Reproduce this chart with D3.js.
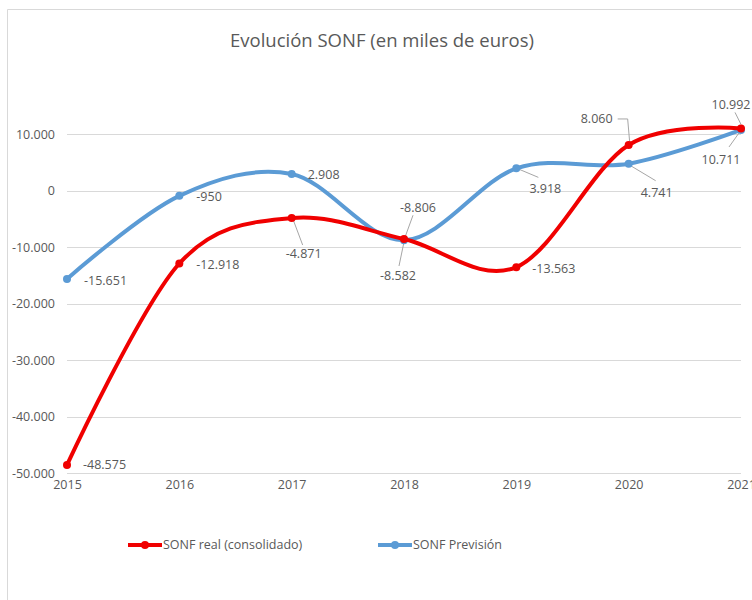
<!DOCTYPE html>
<html>
<head>
<meta charset="utf-8">
<script src="https://cdn.jsdelivr.net/npm/d3@7"></script>
<style>
  body { margin: 0; background: #fff; }
  text { font-family: "Open Sans", "DejaVu Sans", sans-serif; fill: #595959; }
</style>
</head>
<body>
<div id="chart"></div>
<script>
// ---------------------------- DATA ----------------------------
const years = ["2015", "2016", "2017", "2018", "2019", "2020", "2021"];
const realValues = [-48575, -12918, -4871, -8582, -13563, 8060, 10992];
const forecastValues = [-15651, -950, 2908, -8806, 3918, 4741, 10711];
const yTicks = [-50000, -40000, -30000, -20000, -10000, 0, 10000];
const seriesNames = ["SONF real (consolidado)", "SONF Previsión"];
const chartTitle = "Evolución SONF (en miles de euros)";

// label placement (relative to the point), like Excel's manual data labels
const realLabelPos = [
  { dx: 16, dy: 0, anchor: "start" },
  { dx: 17, dy: 1, anchor: "start" },
  { dx: 12, dy: 36, anchor: "middle", lead: [[2, 3], [11, 27]] },
  { dx: -6, dy: 37, anchor: "middle", lead: [[0, 3], [-5, 27]] },
  { dx: 16, dy: 1, anchor: "start" },
  { dx: -32, dy: -26, anchor: "middle", lead: [[-11, -26], [-1, -26], [1, -3]] },
  { dx: -10, dy: -24, anchor: "middle", lead: [[-6, -16], [0, -4]] },
];
const forecastLabelPos = [
  { dx: 17, dy: 2, anchor: "start" },
  { dx: 17, dy: 1, anchor: "start" },
  { dx: 16, dy: 1, anchor: "start" },
  { dx: 14, dy: -33, anchor: "middle", lead: [[9, -25], [1, -3]] },
  { dx: 29, dy: 20, anchor: "middle", lead: [[3, 1], [22, 9]] },
  { dx: 28, dy: 29, anchor: "middle", lead: [[2, 2], [27, 17]] },
  { dx: -20, dy: 30, anchor: "middle", lead: [[-2, 3], [-12, 17]] },
];

const width = 752;
const height = 600;
const colors = ["#f00000", "#5b9bd5"];

const es = d3.formatLocale({ decimal: ",", thousands: ".", grouping: [3], currency: ["", " €"], minus: "-" });
const fmt = es.format(",d");

const svg = d3.select("#chart").append("svg")
  .attr("width", width)
  .attr("height", height);

// chart frame (only top/left edges are in view)
svg.append("path")
  .attr("d", "M7.5,600 V9.5 H752")
  .attr("fill", "none")
  .attr("stroke", "#d9d9d9");

svg.append("text")
  .attr("x", 382)
  .attr("y", 47)
  .attr("text-anchor", "middle")
  .style("font-size", "18.5px")
  .text(chartTitle);

//----------------------------SCALES----------------------------//
const xScale = d3.scalePoint().domain(years).range([67, 741]);
const yScale = d3.scaleLinear().domain([-50000, 10000]).range([473, 134]);

//-----------------------------AXES-----------------------------//
svg.append("g")
  .selectAll("line")
  .data(yTicks)
  .join("line")
  .attr("x1", 67)
  .attr("x2", 741)
  .attr("y1", (d) => Math.round(yScale(d)) + 0.5)
  .attr("y2", (d) => Math.round(yScale(d)) + 0.5)
  .attr("stroke", "#d9d9d9");

const yaxis = d3.axisLeft(yScale).tickValues(yTicks).tickFormat(fmt).tickSize(0).tickPadding(0);
svg.append("g")
  .attr("transform", "translate(55,0)")
  .call(yaxis)
  .call((g) => g.select(".domain").remove())
  .selectAll("text")
  .style("font-size", "12.5px")
  .attr("fill", "#595959");

const xaxis = d3.axisBottom(xScale).tickSize(0).tickPadding(0);
svg.append("g")
  .attr("transform", "translate(0,480)")
  .call(xaxis)
  .call((g) => g.select(".domain").remove())
  .selectAll("text")
  .style("font-size", "12.5px")
  .attr("fill", "#595959");

//----------------------------LINES-----------------------------//
const line = d3.line()
  .x((d) => xScale(d.year))
  .y((d) => yScale(d.value))
  .curve(d3.curveCardinal.tension(0));

const series = [realValues, forecastValues].map((vals, i) => ({
  name: seriesNames[i],
  color: colors[i],
  labels: i === 0 ? realLabelPos : forecastLabelPos,
  values: vals.map((v, j) => ({ year: years[j], value: v })),
}));

// leader lines under the lines
series.forEach((s) => {
  s.values.forEach((d, j) => {
    const p = s.labels[j];
    const px = xScale(d.year);
    const py = yScale(d.value);
    if (p.lead) {
      svg.append("polyline")
        .attr("points", p.lead.map((q) => (px + q[0]) + "," + (py + q[1])).join(" "))
        .attr("fill", "none")
        .attr("stroke", "#a6a6a6")
        .attr("stroke-width", 1);
    }
  });
});

// draw forecast first so the real line sits on top, as in the original
[series[1], series[0]].forEach((s) => {
  const g = svg.append("g");
  g.append("path")
    .attr("d", line(s.values))
    .attr("fill", "none")
    .attr("stroke", s.color)
    .attr("stroke-width", 4)
    .attr("stroke-linecap", "round");
  g.selectAll("circle")
    .data(s.values)
    .join("circle")
    .attr("cx", (d) => xScale(d.year))
    .attr("cy", (d) => yScale(d.value))
    .attr("r", 4)
    .attr("fill", s.color);
});

series.forEach((s) => {
  svg.append("g")
    .selectAll("text")
    .data(s.values)
    .join("text")
    .attr("x", (d, j) => xScale(d.year) + s.labels[j].dx)
    .attr("y", (d, j) => yScale(d.value) + s.labels[j].dy)
    .attr("dy", "0.35em")
    .attr("text-anchor", (d, j) => s.labels[j].anchor)
    .style("font-size", "12.5px")
    .text((d) => fmt(d.value));
});

//----------------------------LEGEND----------------------------//
const legendX = [128, 378];
series.forEach((s, i) => {
  const g = svg.append("g").attr("transform", "translate(" + legendX[i] + ",545)");
  g.append("line")
    .attr("x1", 0).attr("x2", 34)
    .attr("stroke", s.color)
    .attr("stroke-width", 4);
  g.append("circle").attr("cx", 17).attr("r", 4).attr("fill", s.color);
  g.append("text")
    .attr("x", 35)
    .attr("dy", "0.35em")
    .style("font-size", "12.5px")
    .text(s.name);
});
</script>
</body>
</html>
